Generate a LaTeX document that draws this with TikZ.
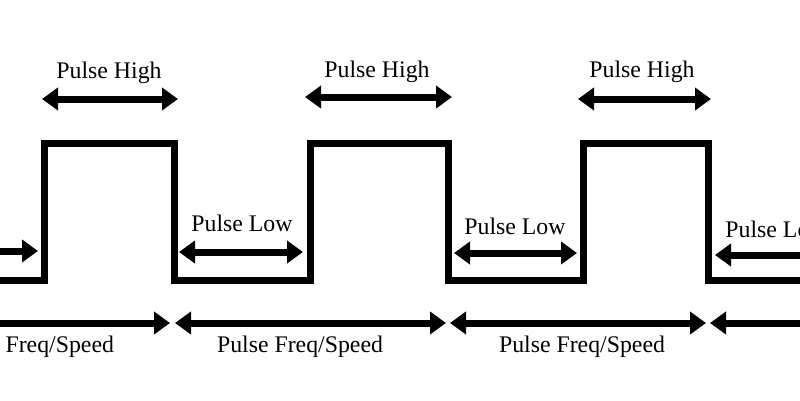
\documentclass[tikz,border=0pt]{standalone}
\usepackage{fontspec}
\setmainfont{Liberation Serif}
\usetikzlibrary{arrows.meta}
\begin{document}
\begin{tikzpicture}[x=1pt,y=-1pt,
  wave/.style={line width=7pt, line join=miter},
  dimarrow/.style={line width=7pt, {Triangle[length=16pt,width=22pt]}-{Triangle[length=16pt,width=22pt]}},
  rarrow/.style={line width=7pt, -{Triangle[length=16pt,width=22pt]}},
  larrow/.style={line width=7pt, {Triangle[length=16pt,width=22pt]}-},
  lbl/.style={font=\fontsize{23.8}{28}\selectfont, anchor=base, inner sep=0pt}]
\path[use as bounding box, clip] (0,0) rectangle (800,400);
\fill[white] (0,0) rectangle (800,400);
% waveform corners
\coordinate (w0) at (-20,280);
\coordinate (w1) at (44,280);
\coordinate (w2) at (44,143);
\coordinate (w3) at (174,143);
\coordinate (w4) at (174,280);
\coordinate (w5) at (310,280);
\coordinate (w6) at (310,143);
\coordinate (w7) at (448,143);
\coordinate (w8) at (448,280);
\coordinate (w9) at (583,280);
\coordinate (w10) at (583,143);
\coordinate (w11) at (708,143);
\coordinate (w12) at (708,280);
\coordinate (w13) at (820,280);
\draw[wave] (w0) -- (w1) -- (w2) -- (w3) -- (w4) -- (w5) -- (w6) -- (w7) -- (w8) -- (w9) -- (w10) -- (w11) -- (w12) -- (w13);
% pulse high
\coordinate (h1a) at (42,99);  \coordinate (h1b) at (178,99);
\coordinate (h2a) at (305,97); \coordinate (h2b) at (452,97);
\coordinate (h3a) at (578,99); \coordinate (h3b) at (711,99);
\draw[dimarrow] (h1a) -- (h1b);
\draw[dimarrow] (h2a) -- (h2b);
\draw[dimarrow] (h3a) -- (h3b);
\node[lbl] (th1) at (109,78) {Pulse High};
\node[lbl] (th2) at (377,77) {Pulse High};
\node[lbl] (th3) at (642,77) {Pulse High};
% pulse low
\coordinate (l0a) at (-30,251); \coordinate (l0b) at (38,251);
\coordinate (l1a) at (179,252); \coordinate (l1b) at (303,252);
\coordinate (l2a) at (454,253); \coordinate (l2b) at (577,253);
\coordinate (l3a) at (715,255); \coordinate (l3b) at (840,255);
\draw[rarrow] (l0a) -- (l0b);
\draw[dimarrow] (l1a) -- (l1b);
\draw[dimarrow] (l2a) -- (l2b);
\draw[larrow] (l3a) -- (l3b);
\node[lbl] (tl1) at (242,231) {Pulse Low};
\node[lbl] (tl2) at (515,234) {Pulse Low};
\node[lbl] (tl3) at (776,237) {Pulse Low};
% frequency
\coordinate (f0a) at (-120,323); \coordinate (f0b) at (170,323);
\coordinate (f1a) at (175,323); \coordinate (f1b) at (446,323);
\coordinate (f2a) at (450,323); \coordinate (f2b) at (706,323);
\coordinate (f3a) at (710,323); \coordinate (f3b) at (980,323);
\draw[dimarrow] (f0a) -- (f0b);
\draw[dimarrow] (f1a) -- (f1b);
\draw[dimarrow] (f2a) -- (f2b);
\draw[dimarrow] (f3a) -- (f3b);
\node[lbl] (tf0) at (31,352) {Pulse Freq/Speed};
\node[lbl] (tf1) at (300,352) {Pulse Freq/Speed};
\node[lbl] (tf2) at (582,352) {Pulse Freq/Speed};
\end{tikzpicture}
\end{document}
